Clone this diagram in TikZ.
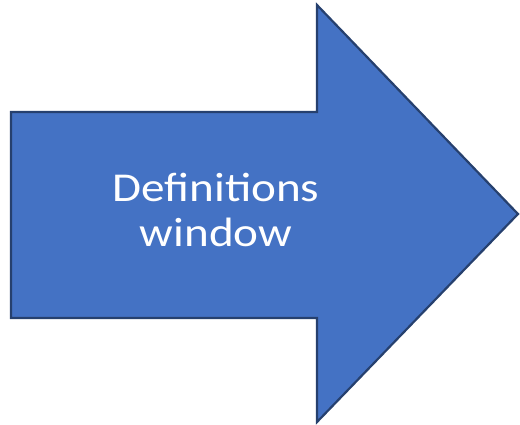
\documentclass[tikz,border=0pt]{standalone}
\usepackage{fontspec}
\setmainfont{Carlito}
\usetikzlibrary{positioning}
\definecolor{arrowfill}{HTML}{4472C4}
\definecolor{arrowline}{HTML}{26406E}
\tikzstyle{bigarrow} = [draw=arrowline, fill=arrowfill, line width=2.2pt, line join=miter]
\tikzstyle{arrowtext} = [text=white, align=center, font=\fontsize{41}{45}\selectfont]

\begin{document}
\begin{tikzpicture}[x=1pt, y=-1pt]

\useasboundingbox (0,0) rectangle (520,424);

% Block arrow
\draw [bigarrow] (11,112) -- (317,112) -- (317,5) -- (518,214) -- (317,422) -- (317,318) -- (11,318) -- cycle;

% Text
\node (defs) [arrowtext] at (216,210) {\scalebox{1.15}[1]{Definitions}\\\scalebox{1.15}[1]{window}};

\end{tikzpicture}
\end{document}
